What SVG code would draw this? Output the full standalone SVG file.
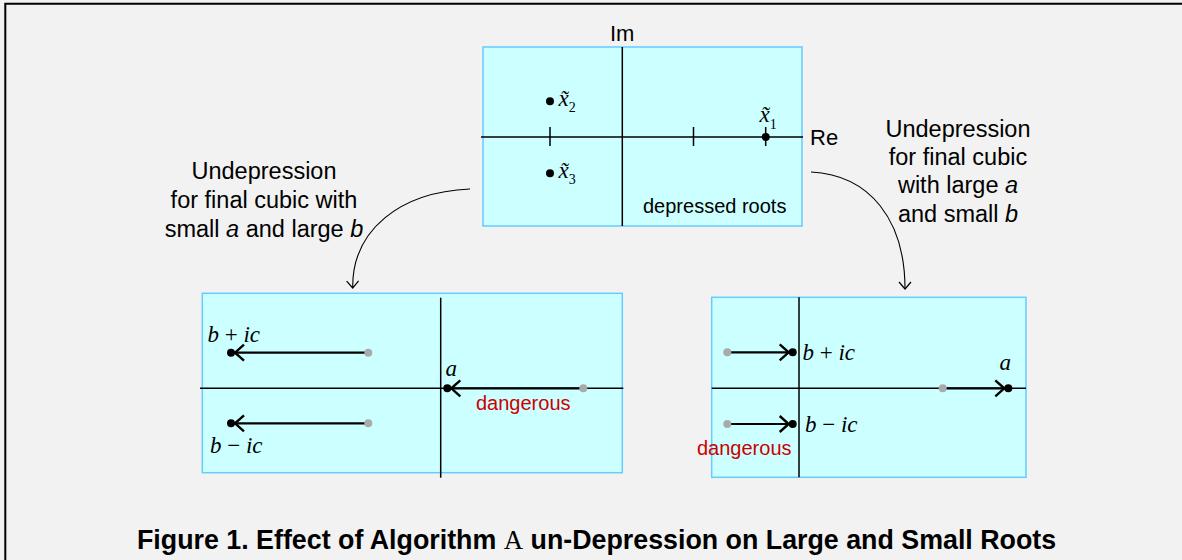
<svg xmlns="http://www.w3.org/2000/svg" width="1182" height="560" viewBox="0 0 1182 560">
<style>
.panel{fill:#ccffff;stroke:#66ccff;stroke-width:1.5}
.axis{stroke:#000;stroke-width:1.5;fill:none}
.mv{stroke:#000;stroke-width:2.2;fill:none;marker-end:url(#vhead)}
.conn{stroke:#000;stroke-width:1.1;fill:none;marker-end:url(#chead)}
.sans{font-family:"Liberation Sans",Arial,sans-serif;fill:#000}
.ann{font-size:23.5px;text-anchor:middle}
.math{font-family:"Liberation Serif","Times New Roman",serif;font-size:23px;fill:#000}
.it{font-style:italic}
.red{fill:#cc0000;font-size:20px}
.gdot{fill:#aaaaaa}
.bdot{fill:#000}
</style>
<defs>
<marker id="vhead" viewBox="-16 -10 20 20" refX="0" refY="0" markerWidth="20" markerHeight="20" markerUnits="userSpaceOnUse" orient="auto">
<path d="M-13,-8 L-4,0 L-13,8" fill="none" stroke="#000" stroke-width="2.4"/>
</marker>
<marker id="chead" viewBox="-10 -8 12 16" refX="0" refY="0" markerWidth="12" markerHeight="16" markerUnits="userSpaceOnUse" orient="auto">
<path d="M-7,-6 L0,0 L-7,6" fill="none" stroke="#000" stroke-width="1.2"/>
</marker>
</defs>
<rect x="0" y="0" width="1182" height="560" fill="#f2f2f2"/>
<path d="M5.3,560 V3.7 H1182" fill="none" stroke="#000" stroke-width="2"/>

<g id="panel-depressed">
<rect class="panel" x="483" y="47" width="319" height="179"/>
<line class="axis" x1="622.3" y1="47" x2="622.3" y2="226"/>
<line class="axis" x1="481" y1="137" x2="803" y2="137"/>
<line class="axis" x1="550" y1="127" x2="550" y2="146"/>
<line class="axis" x1="693.5" y1="127" x2="693.5" y2="146"/>
<line class="axis" x1="765.7" y1="127" x2="765.7" y2="146"/>
<circle class="bdot" cx="550" cy="101.3" r="4"/>
<circle class="bdot" cx="550" cy="173.3" r="4"/>
<circle class="bdot" cx="765.7" cy="137" r="4"/>
<text class="math" x="558.5" y="106" font-size="21"><tspan class="it">x̃</tspan><tspan font-size="14" dy="6">2</tspan></text>
<text class="math" x="558.5" y="178" font-size="21"><tspan class="it">x̃</tspan><tspan font-size="14" dy="6">3</tspan></text>
<text class="math" x="759.5" y="122" font-size="21"><tspan class="it">x̃</tspan><tspan font-size="14" dy="7">1</tspan></text>
<text class="sans" x="610" y="41" font-size="22">Im</text>
<text class="sans" x="810" y="145" font-size="22">Re</text>
<text class="sans" x="643" y="213" font-size="20">depressed roots</text>
</g>

<g id="label-left" class="sans ann">
<text x="264" y="179">Undepression</text>
<text x="264" y="208">for final cubic with</text>
<text x="264" y="237">small <tspan class="it">a</tspan> and large <tspan class="it">b</tspan></text>
</g>

<g id="label-right" class="sans ann">
<text x="958" y="137">Undepression</text>
<text x="958" y="165">for final cubic</text>
<text x="958" y="193">with large <tspan class="it">a</tspan></text>
<text x="958" y="222">and small <tspan class="it">b</tspan></text>
</g>

<g id="panel-small-a">
<rect class="panel" x="202.3" y="293.3" width="420" height="179.4"/>
<line class="axis" x1="440.7" y1="297.7" x2="440.7" y2="477.7"/>
<line class="axis" x1="200" y1="388.3" x2="623.3" y2="388.3"/>
<line class="mv" x1="368.3" y1="352.7" x2="231" y2="352.7"/>
<line class="mv" x1="368.3" y1="423.3" x2="231" y2="423.3"/>
<line class="mv" x1="583.3" y1="388.3" x2="447.3" y2="388.3"/>
<circle class="gdot" cx="368.3" cy="352.7" r="4"/>
<circle class="gdot" cx="368.3" cy="423.3" r="4"/>
<circle class="gdot" cx="583.3" cy="388.3" r="4"/>
<circle class="bdot" cx="231" cy="352.7" r="4"/>
<circle class="bdot" cx="231" cy="423.3" r="4"/>
<circle class="bdot" cx="447.3" cy="388.3" r="4"/>
<text class="math" x="207.5" y="342"><tspan class="it">b</tspan> + <tspan class="it">ic</tspan></text>
<text class="math" x="210" y="452.5"><tspan class="it">b</tspan> − <tspan class="it">ic</tspan></text>
<text class="math it" x="445.5" y="376">a</text>
<text class="sans red" x="476" y="410">dangerous</text>
</g>

<g id="panel-large-a">
<rect class="panel" x="711.7" y="297.3" width="314.3" height="180"/>
<line class="axis" x1="799" y1="297.3" x2="799" y2="477.3"/>
<line class="axis" x1="711.7" y1="388.3" x2="1026" y2="388.3"/>
<line class="mv" x1="727.3" y1="352.3" x2="792.7" y2="352.3"/>
<line class="mv" x1="727.3" y1="424" x2="792.7" y2="424"/>
<line class="mv" x1="942.7" y1="388.3" x2="1008.3" y2="388.3"/>
<circle class="gdot" cx="727.3" cy="352.3" r="4"/>
<circle class="gdot" cx="727.3" cy="424" r="4"/>
<circle class="gdot" cx="942.7" cy="388.3" r="4"/>
<circle class="bdot" cx="792.7" cy="352.3" r="4"/>
<circle class="bdot" cx="792.7" cy="424" r="4"/>
<circle class="bdot" cx="1008.3" cy="388.3" r="4"/>
<text class="math" x="802.5" y="360"><tspan class="it">b</tspan> + <tspan class="it">ic</tspan></text>
<text class="math" x="805" y="432"><tspan class="it">b</tspan> − <tspan class="it">ic</tspan></text>
<text class="math it" x="999.5" y="370">a</text>
<text class="sans red" x="697" y="455">dangerous</text>
</g>

<g id="connectors">
<path class="conn" d="M470,189 C400,192 352,230 352.7,288"/>
<path class="conn" d="M811,172 C870,175 905,220 905,289"/>
</g>

<g id="caption">
<text class="sans" x="137" y="549" font-size="26.8" font-weight="bold">Figure 1. Effect of Algorithm <tspan font-family="'Liberation Serif','Times New Roman',serif" font-weight="normal">A</tspan> un-Depression on Large and Small Roots</text>
</g>
</svg>
